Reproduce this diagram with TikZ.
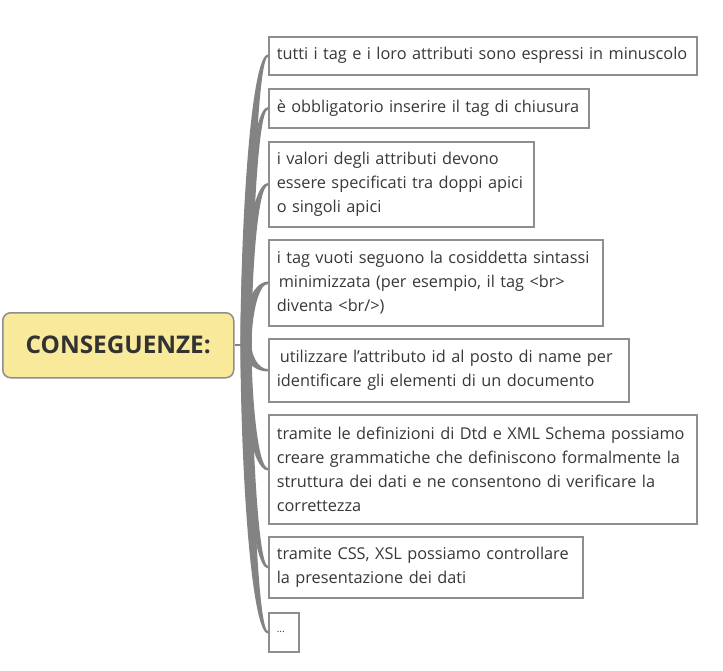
\documentclass[tikz,border=0pt]{standalone}
\usepackage{fontspec}
\setmainfont{Open Sans}
\usetikzlibrary{calc}
\definecolor{conn}{HTML}{838383}
\definecolor{boxline}{HTML}{8E8E8E}
\definecolor{txt}{HTML}{383838}
\definecolor{rootfill}{HTML}{F8E99B}
\begin{document}
\begin{tikzpicture}[x=1pt,y=-1pt,
  leaf/.style={draw=boxline, line width=1.5pt, fill=white, anchor=north west,
    inner xsep=8pt, inner ysep=0pt, align=left, text=txt,
    font=\fontsize{16.3}{24}\selectfont},
  rootbox/.style={draw=boxline, line width=1.5pt, fill=rootfill, rounded corners=8pt,
    anchor=north west, minimum width=231pt, minimum height=65pt, inner sep=0pt,
    text=txt!90!black, font=\fontsize{24.3}{28}\selectfont\bfseries},
  conn/.style={fill=conn, draw=none}
]
\useasboundingbox (0,0) rectangle (723,670);

\node[rootbox] (root) at (2,312) {CONSEGUENZE:};

\node[leaf, minimum width=428pt, minimum height=38pt, text width=412pt] (b1) at (268,36)
  {tutti i tag e i loro attributi sono espressi in minuscolo};
\node[leaf, minimum width=320pt, minimum height=39pt, text width=304pt] (b2) at (268,88)
  {è obbligatorio inserire il tag di chiusura};
\node[leaf, minimum width=265pt, minimum height=85pt, text width=249pt] (b3) at (268,141)
  {i valori degli attributi devono\\essere specificati tra doppi apici\\o singoli apici};
\node[leaf, minimum width=334pt, minimum height=86pt, text width=318pt] (b4) at (268,239)
  {i tag vuoti seguono la cosiddetta sintassi\\\hspace*{2pt}minimizzata (per esempio, il tag <br>\\diventa <br/>)};
\node[leaf, minimum width=360pt, minimum height=63pt, text width=344pt] (b5) at (268,338)
  {\hspace*{3pt}utilizzare l’attributo id al posto di name per\\identificare gli elementi di un documento};
\node[leaf, minimum width=428pt, minimum height=109pt, text width=412pt] (b6) at (268,414)
  {tramite le definizioni di Dtd e XML Schema possiamo\\creare grammatiche che definiscono formalmente la\\struttura dei dati e ne consentono di verificare la\\correttezza};
\node[leaf, minimum width=314pt, minimum height=61pt, text width=298pt] (b7) at (268,536)
  {tramite CSS, XSL possiamo controllare\\la presentazione dei dati};
\node[leaf, minimum width=30pt, minimum height=39pt, text width=14pt, inner xsep=8pt] (b8) at (268,612)
  {\fontsize{10}{12}\selectfont...};

\coordinate (hub) at ($(root.east)+(12,0)$);
\draw[draw=conn, line width=2pt] (root.east) -- (hub);

% upward branches
\foreach \b/\k in {b1/120,b2/104,b3/74,b4/28}{
  \fill[conn] ($(hub)+(-6,0)$) .. controls ($(hub)+(-6,-\k)$) and ($(\b.west)+(-17,-1.2)$) .. ($(\b.west)+(0,-1.2)$)
    -- ($(\b.west)+(0,1.2)$) .. controls ($(\b.west)+(-10,1.2)$) and ($(hub)+(5,-\k)$) .. ($(hub)+(5,0)$) -- cycle;
}
% downward branches
\foreach \b/\k in {b5/10,b6/52,b7/84,b8/118}{
  \fill[conn] ($(hub)+(-6,0)$) .. controls ($(hub)+(-6,\k)$) and ($(\b.west)+(-17,1.2)$) .. ($(\b.west)+(0,1.2)$)
    -- ($(\b.west)+(0,-1.2)$) .. controls ($(\b.west)+(-10,-1.2)$) and ($(hub)+(5,\k)$) .. ($(hub)+(5,0)$) -- cycle;
}
\end{tikzpicture}
\end{document}
